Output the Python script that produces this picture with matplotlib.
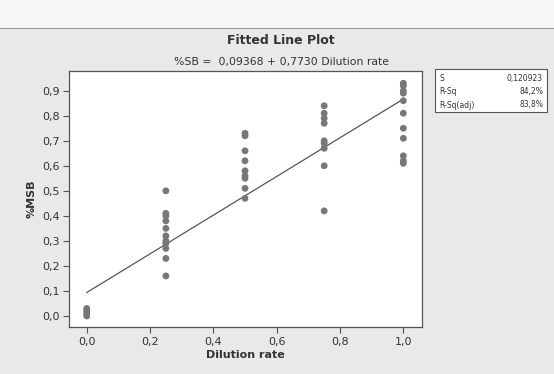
import matplotlib
matplotlib.use("Agg")
import matplotlib.pyplot as plt
from matplotlib.ticker import FuncFormatter
from matplotlib.patches import Rectangle

# ---- data ----
x_levels = [0.0, 0.25, 0.5, 0.75, 1.0]
y_at_0 = [0.03, 0.02, 0.01, 0.0]
y_at_025 = [0.50, 0.41, 0.40, 0.38, 0.35, 0.32, 0.30, 0.29, 0.27, 0.23, 0.16]
y_at_05 = [0.73, 0.72, 0.66, 0.62, 0.58, 0.56, 0.55, 0.51, 0.47]
y_at_075 = [0.84, 0.81, 0.79, 0.77, 0.70, 0.69, 0.67, 0.60, 0.42]
y_at_1 = [0.93, 0.92, 0.90, 0.89, 0.86, 0.81, 0.75, 0.71, 0.64, 0.62, 0.61]
intercept = 0.09368
slope = 0.7730
stat_names = ["S", "R-Sq", "R-Sq(adj)"]
stat_values = ["0,120923", "84,2%", "83,8%"]
x_ticks = [0.0, 0.2, 0.4, 0.6, 0.8, 1.0]
y_ticks = [0.0, 0.1, 0.2, 0.3, 0.4, 0.5, 0.6, 0.7, 0.8, 0.9]

groups = [y_at_0, y_at_025, y_at_05, y_at_075, y_at_1]
xs, ys = [], []
for xv, g in zip(x_levels, groups):
    xs += [xv] * len(g)
    ys += g

W, H = 554, 374
fig = plt.figure(figsize=(W / 100, H / 100), dpi=100)
fig.patch.set_facecolor("#e9e9e9")

# light strip at the top + frame line
fig.add_artist(Rectangle((0, 1 - 28 / H), 1, 28 / H, transform=fig.transFigure,
                         facecolor="#f7f7f7", edgecolor="none", zorder=0))
fig.add_artist(plt.Line2D([0, 1], [1 - 28 / H, 1 - 28 / H], transform=fig.transFigure,
                          color="#9a9a9a", lw=0.8))

ax = fig.add_axes([69.3 / W, 1 - 327 / H, (421.7 - 69.3) / W, (327 - 70.7) / H])
ax.set_facecolor("white")

ax.scatter(xs, ys, s=24, color="#777777", edgecolors="none", zorder=3)
lx = [0.0, 1.0]
ly = [intercept + slope * v for v in lx]
ax.plot(lx, ly, color="#555555", lw=0.9, zorder=2)

ax.set_xlim(-0.055, 1.058)
ax.set_ylim(-0.044, 0.98)
ax.set_xticks(x_ticks)
ax.set_yticks(y_ticks)
fmt = FuncFormatter(lambda v, p: f"{v:.1f}".replace(".", ","))
ax.xaxis.set_major_formatter(fmt)
ax.yaxis.set_major_formatter(fmt)
ax.tick_params(direction="out", length=4, width=0.8, color="#555555",
               labelsize=8, labelcolor="#333333", pad=3)
for s in ax.spines.values():
    s.set_color("#555555")
    s.set_linewidth(0.9)

ax.set_xlabel("Dilution rate", fontsize=8, fontweight="bold", color="#333333", labelpad=2)
ax.set_ylabel("%MSB", fontsize=8, fontweight="bold", color="#333333", labelpad=4)

fig.text(281 / W, 1 - 40 / H, "Fitted Line Plot", ha="center", va="center",
         fontsize=9, fontweight="bold", color="#333333")
fig.text(281 / W, 1 - 61.5 / H, "%SB =  0,09368 + 0,7730 Dilution rate", ha="center",
         va="center", fontsize=7.8, color="#333333")

# stats box
bx0, bx1, by0, by1 = 435, 546.7, 69.3, 112
fig.add_artist(Rectangle((bx0 / W, 1 - by1 / H), (bx1 - bx0) / W, (by1 - by0) / H,
                         transform=fig.transFigure, facecolor="white",
                         edgecolor="#555555", lw=0.8))
row_y = [78.3, 91.7, 105]
for nm, val, ry in zip(stat_names, stat_values, row_y):
    fig.text(439 / W, 1 - ry / H, nm, ha="left", va="center", fontsize=5.5, color="#333333")
    fig.text(543 / W, 1 - ry / H, val, ha="right", va="center", fontsize=5.5, color="#333333")

fig.savefig("out.png", dpi=100, facecolor=fig.get_facecolor())
